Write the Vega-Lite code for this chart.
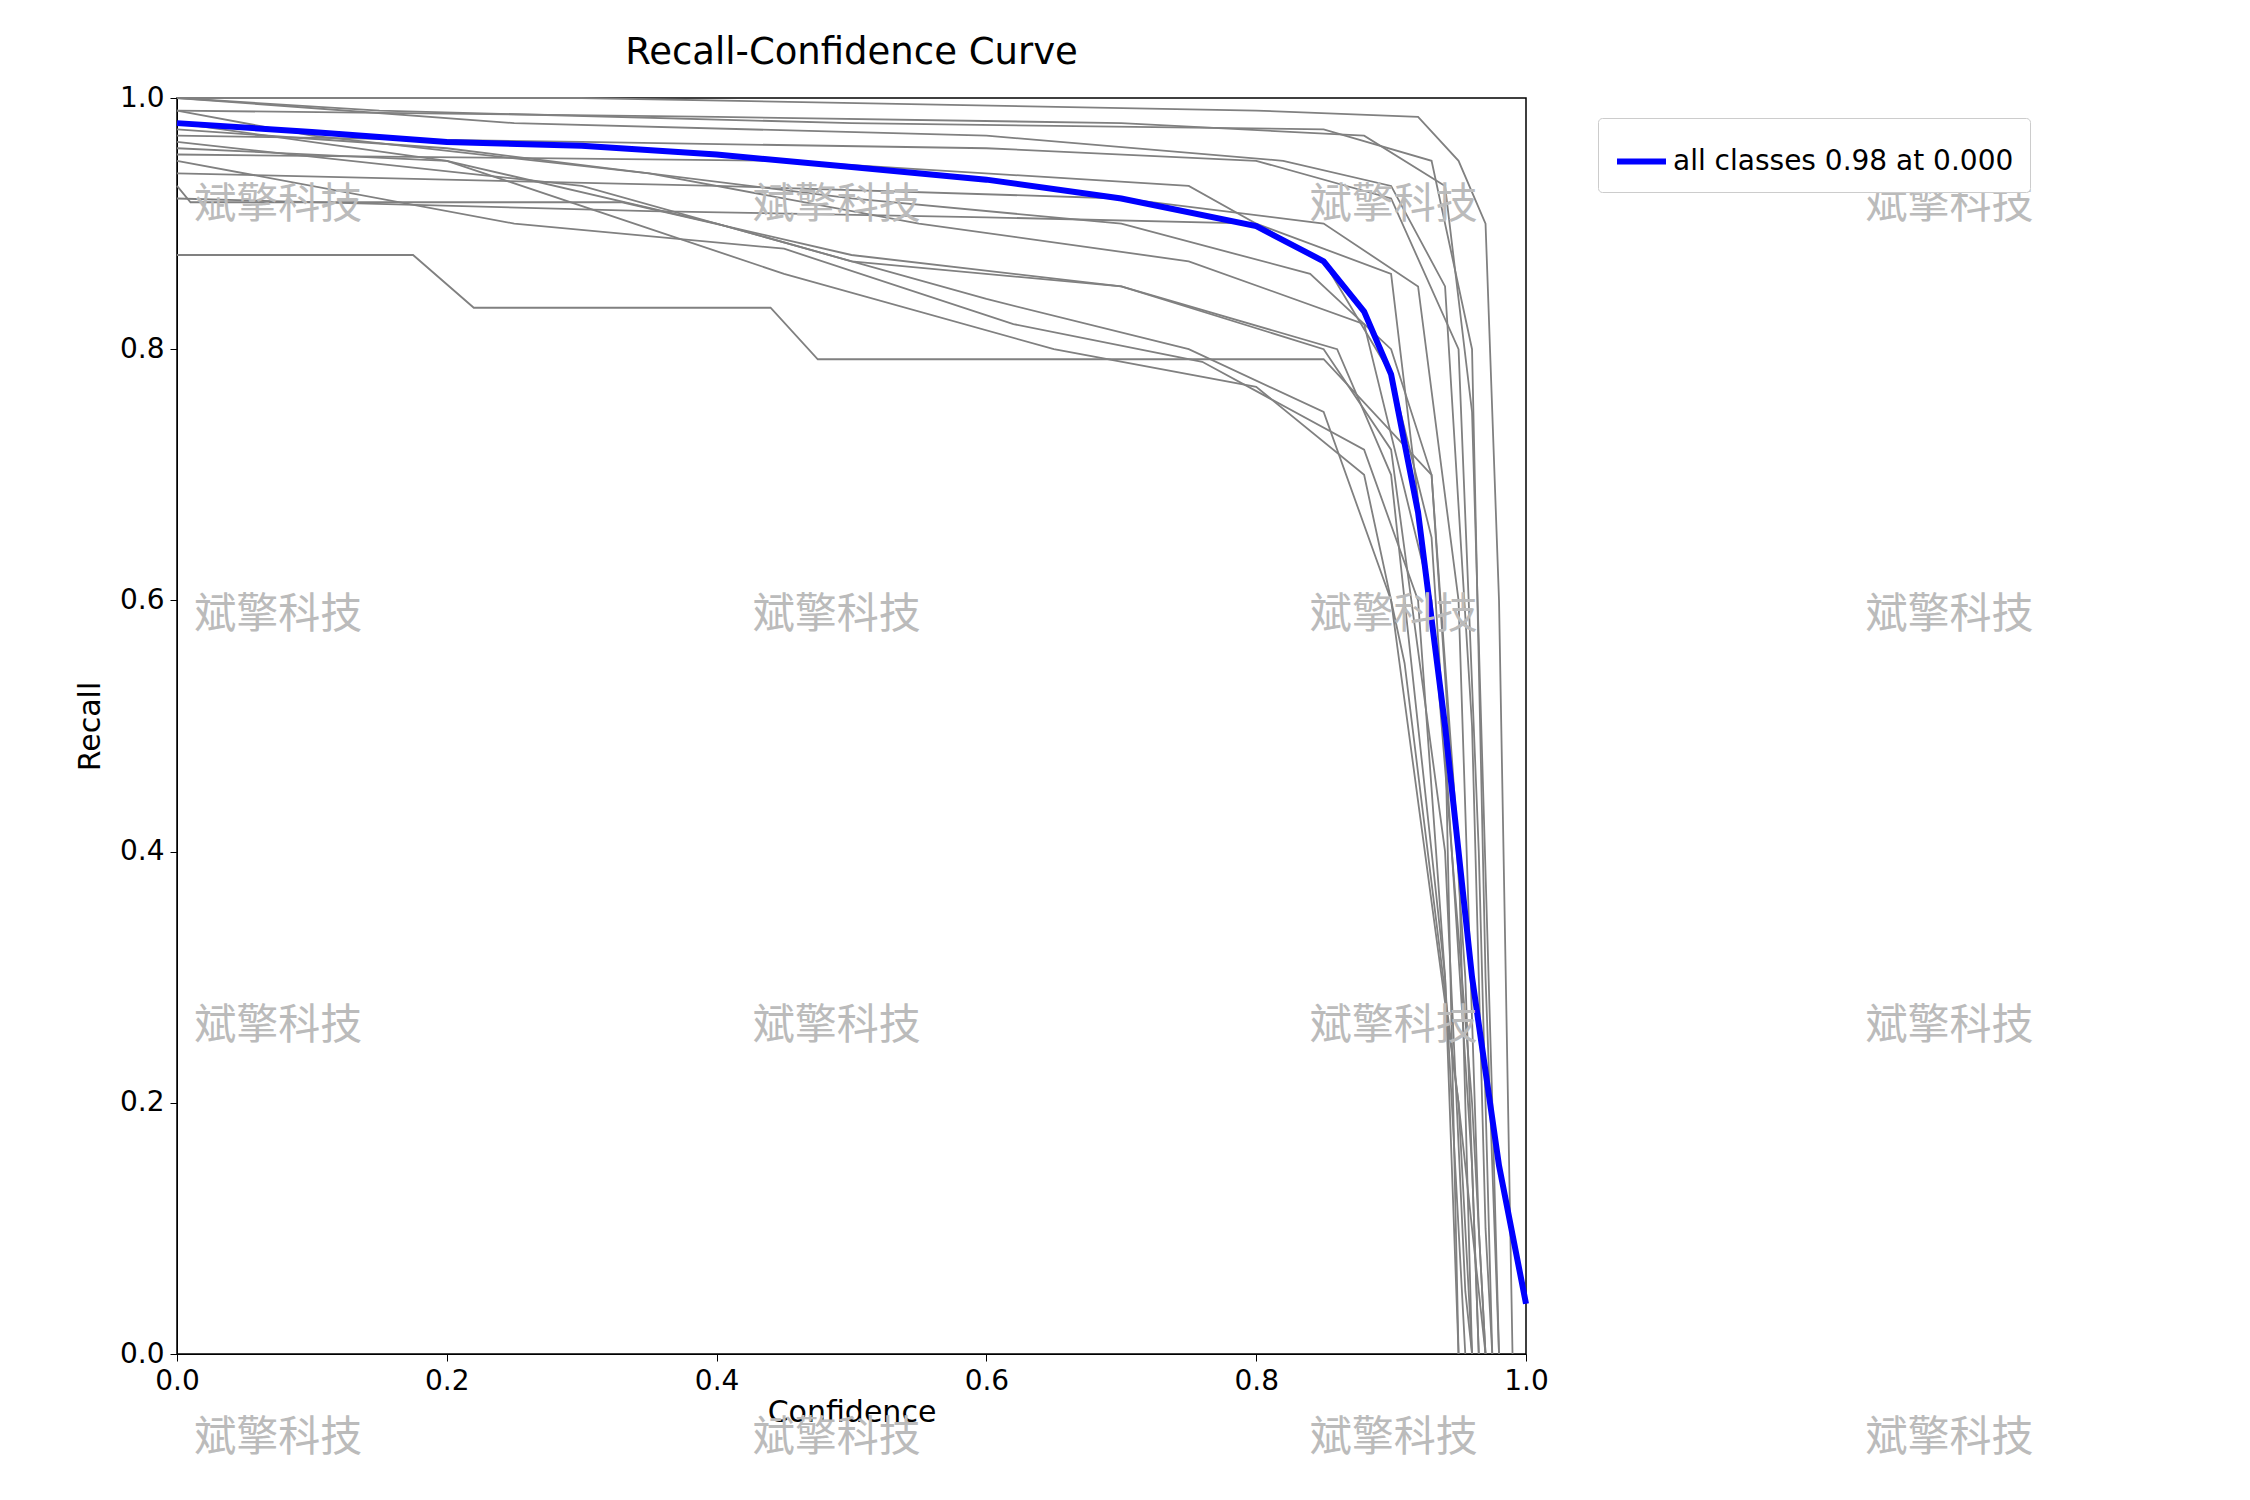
{
  "$schema": "https://vega.github.io/schema/vega-lite/v6.json",
  "width": 1349,
  "height": 1256,
  "autosize": "none",
  "padding": {"left": 177, "top": 98, "right": 724, "bottom": 146},
  "background": "white",
  "title": {"text": "Recall-Confidence Curve", "font": "DejaVu Sans", "fontSize": 37, "fontWeight": "normal", "color": "black", "offset": 12},
  "config": {
    "view": {"stroke": "black", "strokeWidth": 1.5},
    "axis": {"grid": false, "domainColor": "black", "tickColor": "black", "labelFont": "DejaVu Sans", "titleFont": "DejaVu Sans", "labelFontSize": 28, "titleFontSize": 30, "titleFontWeight": "normal", "labelColor": "black", "titleColor": "black", "tickSize": 7, "labelPadding": 6, "labelFlush": false}
  },
  "datasets": {
    "gray": [
      {"c":"a","x":0,"y":0.875},{"c":"a","x":0.175,"y":0.875},{"c":"a","x":0.22,"y":0.833},{"c":"a","x":0.44,"y":0.833},{"c":"a","x":0.475,"y":0.792},{"c":"a","x":0.85,"y":0.792},{"c":"a","x":0.93,"y":0.7},{"c":"a","x":0.95,"y":0.4},{"c":"a","x":0.96,"y":0},
      {"c":"b","x":0,"y":0.93},{"c":"b","x":0.01,"y":0.917},{"c":"b","x":0.33,"y":0.917},{"c":"b","x":0.5,"y":0.875},{"c":"b","x":0.7,"y":0.85},{"c":"b","x":0.86,"y":0.8},{"c":"b","x":0.9,"y":0.7},{"c":"b","x":0.94,"y":0.3},{"c":"b","x":0.95,"y":0},
      {"c":"c","x":0,"y":0.96},{"c":"c","x":0.2,"y":0.95},{"c":"c","x":0.4,"y":0.9},{"c":"c","x":0.6,"y":0.84},{"c":"c","x":0.75,"y":0.8},{"c":"c","x":0.85,"y":0.75},{"c":"c","x":0.9,"y":0.6},{"c":"c","x":0.95,"y":0.2},{"c":"c","x":0.97,"y":0},
      {"c":"d","x":0,"y":1.0},{"c":"d","x":0.15,"y":0.99},{"c":"d","x":0.5,"y":0.98},{"c":"d","x":0.85,"y":0.975},{"c":"d","x":0.93,"y":0.95},{"c":"d","x":0.96,"y":0.8},{"c":"d","x":0.97,"y":0.3},{"c":"d","x":0.98,"y":0},
      {"c":"e","x":0,"y":0.97},{"c":"e","x":0.3,"y":0.965},{"c":"e","x":0.6,"y":0.96},{"c":"e","x":0.8,"y":0.95},{"c":"e","x":0.9,"y":0.92},{"c":"e","x":0.95,"y":0.8},{"c":"e","x":0.965,"y":0.4},{"c":"e","x":0.975,"y":0},
      {"c":"f","x":0,"y":0.95},{"c":"f","x":0.25,"y":0.9},{"c":"f","x":0.45,"y":0.88},{"c":"f","x":0.62,"y":0.82},{"c":"f","x":0.76,"y":0.79},{"c":"f","x":0.88,"y":0.72},{"c":"f","x":0.92,"y":0.6},{"c":"f","x":0.94,"y":0.3},{"c":"f","x":0.955,"y":0},
      {"c":"g","x":0,"y":0.99},{"c":"g","x":0.1,"y":0.97},{"c":"g","x":0.35,"y":0.94},{"c":"g","x":0.55,"y":0.9},{"c":"g","x":0.75,"y":0.87},{"c":"g","x":0.88,"y":0.82},{"c":"g","x":0.93,"y":0.6},{"c":"g","x":0.96,"y":0.2},{"c":"g","x":0.97,"y":0},
      {"c":"h","x":0,"y":0.94},{"c":"h","x":0.4,"y":0.93},{"c":"h","x":0.7,"y":0.92},{"c":"h","x":0.85,"y":0.9},{"c":"h","x":0.92,"y":0.85},{"c":"h","x":0.95,"y":0.6},{"c":"h","x":0.965,"y":0.1},{"c":"h","x":0.97,"y":0},
      {"c":"i","x":0,"y":1.0},{"c":"i","x":0.3,"y":1.0},{"c":"i","x":0.8,"y":0.99},{"c":"i","x":0.92,"y":0.985},{"c":"i","x":0.95,"y":0.95},{"c":"i","x":0.97,"y":0.9},{"c":"i","x":0.98,"y":0.6},{"c":"i","x":0.99,"y":0},
      {"c":"j","x":0,"y":0.955},{"c":"j","x":0.45,"y":0.95},{"c":"j","x":0.75,"y":0.93},{"c":"j","x":0.85,"y":0.87},{"c":"j","x":0.9,"y":0.78},{"c":"j","x":0.93,"y":0.65},{"c":"j","x":0.96,"y":0.15},{"c":"j","x":0.965,"y":0},
      {"c":"k","x":0,"y":0.98},{"c":"k","x":0.2,"y":0.95},{"c":"k","x":0.45,"y":0.86},{"c":"k","x":0.65,"y":0.8},{"c":"k","x":0.8,"y":0.77},{"c":"k","x":0.88,"y":0.7},{"c":"k","x":0.91,"y":0.55},{"c":"k","x":0.95,"y":0.2},{"c":"k","x":0.96,"y":0},
      {"c":"l","x":0,"y":1.0},{"c":"l","x":0.25,"y":0.98},{"c":"l","x":0.6,"y":0.97},{"c":"l","x":0.82,"y":0.95},{"c":"l","x":0.9,"y":0.93},{"c":"l","x":0.94,"y":0.85},{"c":"l","x":0.96,"y":0.5},{"c":"l","x":0.97,"y":0.1},{"c":"l","x":0.975,"y":0},
      {"c":"m","x":0,"y":0.965},{"c":"m","x":0.3,"y":0.93},{"c":"m","x":0.5,"y":0.87},{"c":"m","x":0.7,"y":0.85},{"c":"m","x":0.85,"y":0.8},{"c":"m","x":0.9,"y":0.72},{"c":"m","x":0.94,"y":0.4},{"c":"m","x":0.955,"y":0.05},{"c":"m","x":0.96,"y":0},
      {"c":"n","x":0,"y":0.99},{"c":"n","x":0.4,"y":0.985},{"c":"n","x":0.7,"y":0.98},{"c":"n","x":0.88,"y":0.97},{"c":"n","x":0.94,"y":0.93},{"c":"n","x":0.96,"y":0.75},{"c":"n","x":0.975,"y":0.2},{"c":"n","x":0.98,"y":0},
      {"c":"o","x":0,"y":0.975},{"c":"o","x":0.2,"y":0.96},{"c":"o","x":0.5,"y":0.92},{"c":"o","x":0.7,"y":0.9},{"c":"o","x":0.84,"y":0.86},{"c":"o","x":0.9,"y":0.8},{"c":"o","x":0.93,"y":0.7},{"c":"o","x":0.955,"y":0.3},{"c":"o","x":0.965,"y":0},
      {"c":"p","x":0,"y":0.92},{"c":"p","x":0.35,"y":0.91},{"c":"p","x":0.6,"y":0.905},{"c":"p","x":0.8,"y":0.9},{"c":"p","x":0.9,"y":0.86},{"c":"p","x":0.94,"y":0.5},{"c":"p","x":0.95,"y":0}
    ],
    "all": [
      {"x":0,"y":0.98},{"x":0.1,"y":0.973},{"x":0.2,"y":0.965},{"x":0.3,"y":0.962},{"x":0.4,"y":0.955},{"x":0.5,"y":0.945},{"x":0.6,"y":0.935},{"x":0.7,"y":0.92},{"x":0.8,"y":0.898},{"x":0.85,"y":0.87},{"x":0.88,"y":0.83},{"x":0.9,"y":0.78},{"x":0.92,"y":0.67},{"x":0.94,"y":0.5},{"x":0.96,"y":0.3},{"x":0.98,"y":0.15},{"x":1.0,"y":0.04}
    ],
    "marks": [
      {"x":0.075,"y":0.915},{"x":0.489,"y":0.915},{"x":0.902,"y":0.915},{"x":1.314,"y":0.915},
      {"x":0.075,"y":0.588},{"x":0.489,"y":0.588},{"x":0.902,"y":0.588},{"x":1.314,"y":0.588},
      {"x":0.075,"y":0.261},{"x":0.489,"y":0.261},{"x":0.902,"y":0.261},{"x":1.314,"y":0.261},
      {"x":0.075,"y":-0.067},{"x":0.489,"y":-0.067},{"x":0.902,"y":-0.067},{"x":1.314,"y":-0.067}
    ]
  },
  "encoding": {
    "x": {"field": "x", "type": "quantitative", "scale": {"domain": [0, 1], "nice": false}, "title": "Confidence", "axis": {"values": [0, 0.2, 0.4, 0.6, 0.8, 1.0], "format": ".1f", "titlePadding": 2}},
    "y": {"field": "y", "type": "quantitative", "scale": {"domain": [0, 1], "nice": false}, "title": "Recall", "axis": {"values": [0, 0.2, 0.4, 0.6, 0.8, 1.0], "format": ".1f", "titlePadding": 14}}
  },
  "layer": [
    {
      "data": {"name": "gray"},
      "mark": {"type": "line", "color": "#808080", "strokeWidth": 1.8},
      "encoding": {"detail": {"field": "c"}, "order": {"field": "x", "type": "quantitative"}}
    },
    {
      "data": {"name": "all"},
      "mark": {"type": "line", "strokeWidth": 6},
      "encoding": {
        "color": {"datum": "all classes 0.98 at 0.000", "scale": {"range": ["#0000ff"]},
          "legend": {"title": null, "orient": "none", "legendX": 1421, "legendY": 20, "symbolType": "stroke", "symbolSize": 2400, "symbolStrokeWidth": 6, "labelFont": "DejaVu Sans", "labelFontSize": 28, "labelLimit": 0, "labelColor": "black", "strokeColor": "#cccccc", "cornerRadius": 4, "padding": 16, "fillColor": "white"}}
      }
    },
    {
      "data": {"name": "marks"},
      "mark": {"type": "text", "text": "斌擎科技", "font": "Noto Sans CJK SC", "fontSize": 42, "color": "#bbbbbb", "clip": false}
    }
  ]
}
